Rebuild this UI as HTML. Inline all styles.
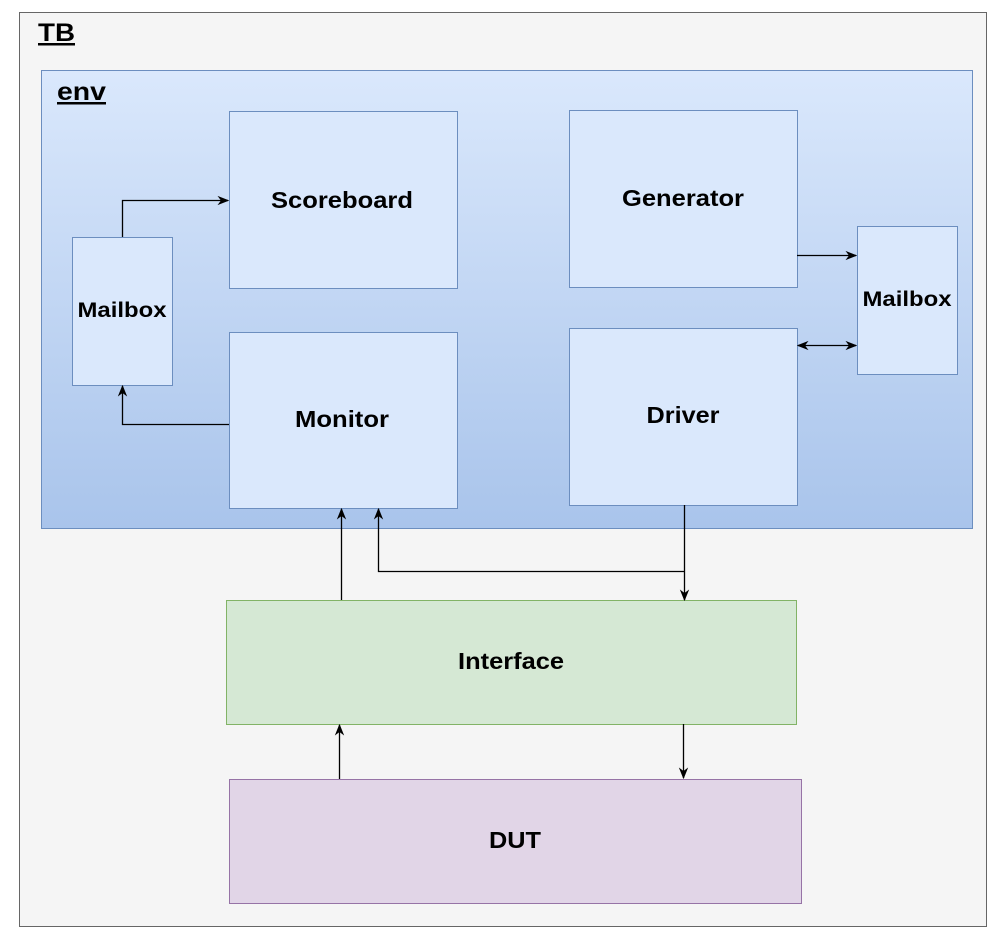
<!DOCTYPE html>
<html><head><meta charset="utf-8"><style>
body{margin:0;width:1003px;height:941px;background:#fff;overflow:hidden;font-family:"Liberation Sans",Arial,sans-serif;}
</style></head><body>
<svg width="1003" height="941" xmlns="http://www.w3.org/2000/svg" font-family="Liberation Sans, Arial, sans-serif" font-weight="bold">
<defs>
<linearGradient id="g" x1="0" y1="0" x2="0" y2="1"><stop offset="0" stop-color="#dae8fc"/><stop offset="1" stop-color="#a9c4eb"/></linearGradient>
<marker id="a" viewBox="0 0 10 10" refX="9" refY="5" markerWidth="9" markerHeight="9" orient="auto-start-reverse"><path d="M0,1 L10,5 L0,9 L3,5 z" fill="#000"/></marker>
</defs>
<rect x="19.5" y="12.5" width="967" height="914" fill="#f5f5f5" stroke="#666"/>
<text x="38" y="41" font-size="25" text-decoration="underline" textLength="37" lengthAdjust="spacingAndGlyphs">TB</text>
<rect x="41.5" y="70.5" width="931" height="458" fill="url(#g)" stroke="#6c8ebf"/>
<text x="57" y="100" font-size="25" text-decoration="underline" textLength="49" lengthAdjust="spacingAndGlyphs">env</text>
<g fill="#dae8fc" stroke="#6c8ebf">
<rect x="229.5" y="111.5" width="228" height="177"/>
<rect x="72.5" y="237.5" width="100" height="148"/>
<rect x="229.5" y="332.5" width="228" height="176"/>
<rect x="569.5" y="110.5" width="228" height="177"/>
<rect x="569.5" y="328.5" width="228" height="177"/>
<rect x="857.5" y="226.5" width="100" height="148"/>
</g>
<rect x="226.5" y="600.5" width="570" height="124" fill="#d5e8d4" stroke="#82b366"/>
<rect x="229.5" y="779.5" width="572" height="124" fill="#e1d5e7" stroke="#9673a6"/>
<g font-size="23" text-anchor="middle" lengthAdjust="spacingAndGlyphs">
<text x="342" y="208" textLength="142" lengthAdjust="spacingAndGlyphs">Scoreboard</text>
<text x="342" y="427" textLength="94" lengthAdjust="spacingAndGlyphs">Monitor</text>
<text x="683" y="206" textLength="122" lengthAdjust="spacingAndGlyphs">Generator</text>
<text x="683" y="423" textLength="73" lengthAdjust="spacingAndGlyphs">Driver</text>
<text x="511" y="669" textLength="106" lengthAdjust="spacingAndGlyphs">Interface</text>
<text x="515" y="848" textLength="52" lengthAdjust="spacingAndGlyphs">DUT</text>
</g>
<g font-size="21" text-anchor="middle">
<text x="122" y="317" textLength="89" lengthAdjust="spacingAndGlyphs">Mailbox</text>
<text x="907" y="306" textLength="89" lengthAdjust="spacingAndGlyphs">Mailbox</text>
</g>
<g fill="none" stroke="#000" stroke-width="1.3">
<path d="M122.5,237 V200.5 H228" marker-end="url(#a)"/>
<path d="M229,424.5 H122.5 V386" marker-end="url(#a)"/>
<path d="M797,255.5 H856" marker-end="url(#a)"/>
<path d="M798,345.5 H856" marker-start="url(#a)" marker-end="url(#a)"/>
<path d="M341.5,600 V509" marker-end="url(#a)"/>
<path d="M684.5,505 V600" marker-end="url(#a)"/>
<path d="M684.5,571.5 H378.5 V509" marker-end="url(#a)"/>
<path d="M683.5,724 V778" marker-end="url(#a)"/>
<path d="M339.5,779 V725" marker-end="url(#a)"/>
</g>
</svg>
</body></html>
